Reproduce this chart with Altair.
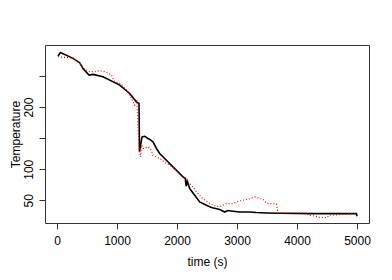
import altair as alt
import pandas as pd

# Black solid series (measured)
time_black = [17, 57, 267, 378, 433, 533, 600, 767, 1045, 1212, 1323, 1367, 1375,
              1417, 1462, 1517, 1545, 1600, 1657, 1712, 1823, 1933, 2100, 2137, 2153,
              2170, 2212, 2295, 2378, 2490, 2573, 2712, 2795, 2845, 2933, 3045, 3212,
              3323, 3490, 3712, 4267, 4990, 5000]
temp_black = [282, 288, 278.5, 271.5, 262, 251.6, 252.7, 249, 235.5, 222, 208.5, 206, 128,
              152, 153, 149.5, 148, 144, 133.4, 125.3, 114.5, 103.7, 87.6, 85.5, 72.6,
              80.6, 68.9, 58.1, 47.3, 41.9, 38.2, 35, 31.1, 33.5, 32.4, 31.1, 31.1,
              30.2, 29.5, 29, 28.5, 28.5, 24.2]

# Red dotted series
time_red = [17, 267, 378, 462, 545, 628, 712, 795, 850, 907, 962, 1073, 1157, 1240,
            1295, 1333, 1353, 1370, 1395, 1412, 1433, 1462, 1517, 1573, 1595, 1712,
            1823, 1933, 2045, 2157, 2267, 2323, 2428, 2545, 2657, 2728, 2823, 2933,
            2990, 3100, 3212, 3295, 3378, 3433, 3490, 3657, 3683, 3990, 4157, 4183,
            4378, 4490, 4545, 4990]
temp_red = [281, 279, 270.5, 260.8, 257, 257, 258.5, 257, 255.3, 251.6, 240.8, 237.1, 227.4, 214,
            203.2, 211.3, 162.9, 130.6, 119.8, 138.7, 133.4, 133.9, 136, 130.6, 122.6, 117.3,
            109.2, 103.7, 93.1, 82.3, 71.5, 63.4, 52.7, 44.7, 40.3, 40.3, 44.7, 44.7,
            47.3, 50, 52.7, 55.3, 53.2, 51.6, 45.2, 44, 29.5, 29.5, 29.5, 26.9,
            22.6, 22.1, 25.8, 28.5]

x_ticks = [0, 1000, 2000, 3000, 4000, 5000]
y_ticks = [50, 100, 150, 200, 250]

df_b = pd.DataFrame({"time": time_black, "temp": temp_black, "i": range(len(time_black))})
df_r = pd.DataFrame({"time": time_red, "temp": temp_red, "i": range(len(time_red))})

font = "Liberation Sans"

x_enc = alt.X("time:Q",
              scale=alt.Scale(domain=[-200, 5200], nice=False, zero=False),
              axis=alt.Axis(values=x_ticks, title="time (s)", format="d",
                            labelPadding=6, titlePadding=10))
y_enc = alt.Y("temp:Q",
              scale=alt.Scale(domain=[13.4, 300], nice=False, zero=False),
              axis=alt.Axis(values=y_ticks, title="Temperature",
                            labelExpr="datum.value == 150 || datum.value == 250 ? '' : datum.label",
                            labelAngle=270, labelAlign="center", labelBaseline="bottom",
                            labelPadding=4, titlePadding=0))

black = alt.Chart(df_b).mark_line(color="black", strokeWidth=1.6).encode(
    x=x_enc, y=y_enc, order="i:Q")
red = alt.Chart(df_r).mark_line(color="#ff0000", strokeWidth=1.2, strokeDash=[1, 2]).encode(
    x="time:Q", y="temp:Q", order="i:Q")

chart = alt.layer(black, red).properties(
    width=324, height=178,
    autosize=alt.AutoSizeParams(type="none"),
    padding={"left": 37, "top": 37, "right": 15, "bottom": 49},
).configure_view(
    stroke="#333", strokeWidth=1
).configure_axis(
    domain=False, grid=False, tickColor="#333", tickSize=6, tickWidth=1,
    labelFont=font, titleFont=font, labelFontSize=12, titleFontSize=12,
    labelColor="black", titleColor="black", titleFontWeight="normal"
)

chart.save("out.html", embed_options={"renderer": "svg", "actions": False})
